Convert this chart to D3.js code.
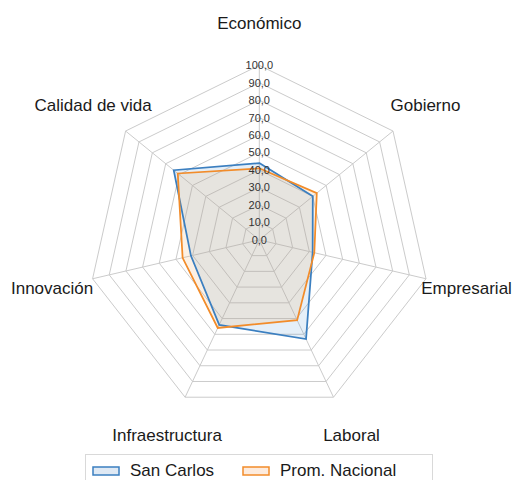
<!DOCTYPE html>
<html>
<head>
<meta charset="utf-8">
<script src="https://cdn.jsdelivr.net/npm/d3@7"></script>
<style>
  html, body { margin: 0; padding: 0; background: #fff; }
  svg { display: block; font-family: "Liberation Sans", Arial, Helvetica, sans-serif; }
</style>
</head>
<body>
<svg id="chart" width="514" height="480"></svg>
<script>
const categories = ["Económico", "Gobierno", "Empresarial", "Laboral", "Infraestructura", "Innovación", "Calidad de vida"];
const seriesNames = ["San Carlos", "Prom. Nacional"];
const sanCarlos = [44, 40, 32, 63, 54, 41, 64];
const promNacional = [41, 43, 33, 51, 56, 46, 61];
const tickValues = [0, 10, 20, 30, 40, 50, 60, 70, 80, 90, 100];

const svg = d3.select("#chart");
const cx = 259.3, cy = 239.9;
const rX = d3.scaleLinear().domain([0, 100]).range([0, 171]);
const rY = d3.scaleLinear().domain([0, 100]).range([0, 174.6]);
const angle = d3.scalePoint().domain(categories.map((c, i) => i)).range([0, 2 * Math.PI * (categories.length - 1) / categories.length]);

const pt = (i, v) => [cx + rX(v) * Math.sin(angle(i)), cy - rY(v) * Math.cos(angle(i))];
const ring = v => categories.map((c, i) => pt(i, v));
const polyLine = d3.line().curve(d3.curveLinearClosed);

const grid = svg.append("g").attr("fill", "none").attr("stroke", "#cbcbcb").attr("stroke-width", 1);
tickValues.filter(v => v > 0).forEach(v => {
  grid.append("path").attr("d", polyLine(ring(v)));
});
categories.forEach((c, i) => {
  const [x0, y0] = pt(i, 0), [x1, y1] = pt(i, 100);
  grid.append("line").attr("x1", x0).attr("y1", y0).attr("x2", x1).attr("y2", y1);
});

const series = [
  { name: seriesNames[0], values: sanCarlos, stroke: "#3b7fc0", fill: "rgb(91,155,213)", fillOpacity: 0.16, legendFill: "#dfe9f4" },
  { name: seriesNames[1], values: promNacional, stroke: "#f28c2a", fill: "rgb(236,178,110)", fillOpacity: 0.18, legendFill: "#fdebdd" }
];

series.forEach(s => {
  svg.append("path")
    .attr("d", polyLine(s.values.map((v, i) => pt(i, v))))
    .attr("fill", s.fill).attr("fill-opacity", s.fillOpacity).attr("stroke", "none");
});
series.forEach(s => {
  svg.append("path")
    .attr("d", polyLine(s.values.map((v, i) => pt(i, v))))
    .attr("fill", "none").attr("stroke", s.stroke).attr("stroke-width", 1.75).attr("stroke-linejoin", "miter");
});

const fmt = v => d3.format(".1f")(v).replace(".", ",");
svg.append("g").selectAll("text").data(tickValues).join("text")
  .attr("x", cx).attr("y", v => cy - rY(v))
  .attr("dy", "0.35em").attr("text-anchor", "middle")
  .attr("font-size", 11).attr("fill", "#333333")
  .text(fmt);

svg.append("g").selectAll("text").data(categories).join("text")
  .attr("x", (c, i) => pt(i, 124.3)[0])
  .attr("y", (c, i) => pt(i, 124.3)[1])
  .attr("dy", "0.35em").attr("text-anchor", "middle")
  .attr("font-size", 17).attr("fill", "#1a1a1a")
  .text(d => d);

const legend = svg.append("g");
legend.append("rect").attr("x", 85.5).attr("y", 454.5).attr("width", 347).attr("height", 40)
  .attr("fill", "#fff").attr("stroke", "#d9d9d9");
const legendX = [93, 243];
series.forEach((s, i) => {
  legend.append("rect").attr("x", legendX[i]).attr("y", 467).attr("width", 26).attr("height", 8)
    .attr("fill", s.legendFill).attr("stroke", s.stroke).attr("stroke-width", 1.5);
  legend.append("text").attr("x", legendX[i] + 37).attr("y", 476)
    .attr("font-size", 17).attr("fill", "#1a1a1a").text(s.name);
});
</script>
</body>
</html>
